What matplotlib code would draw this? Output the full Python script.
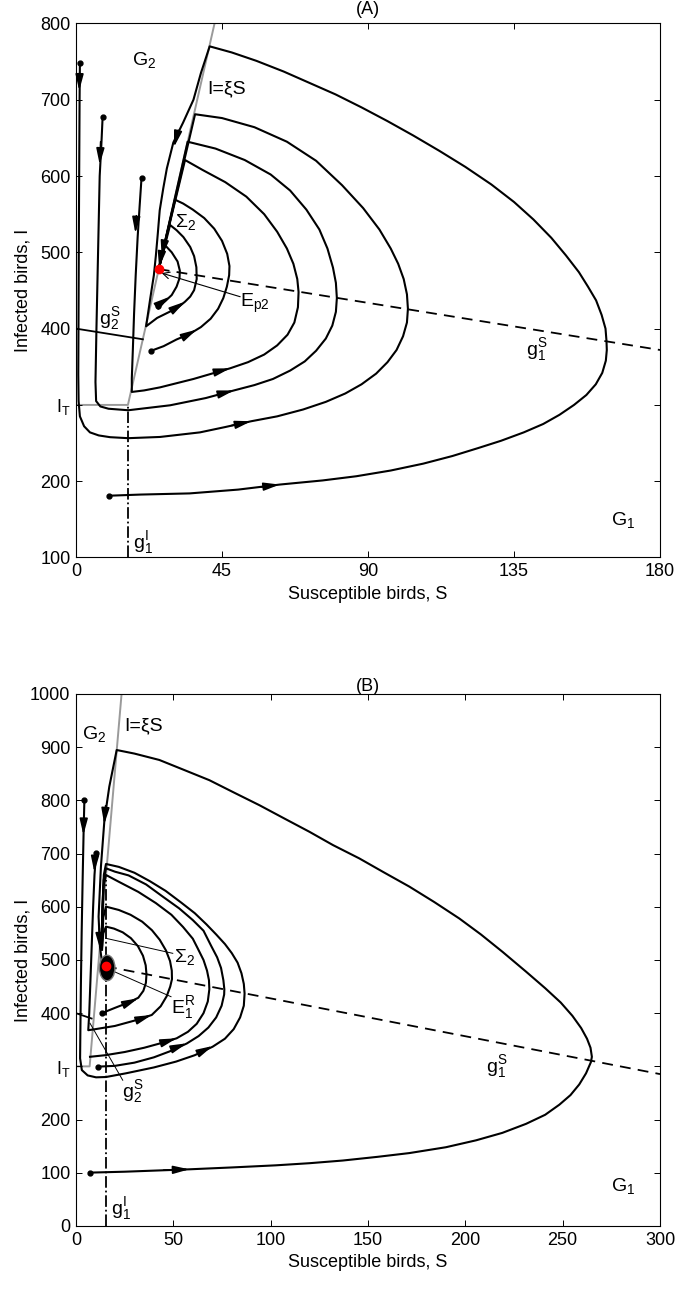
import matplotlib
matplotlib.use('Agg')
import matplotlib.pyplot as plt
from matplotlib.patches import Ellipse

plt.rcParams['font.family'] = ['Liberation Sans', 'DejaVu Sans']
plt.rcParams['mathtext.fontset'] = 'custom'
plt.rcParams['mathtext.rm'] = 'Liberation Sans'
plt.rcParams['mathtext.it'] = 'Liberation Sans:italic'
plt.rcParams['mathtext.sf'] = 'Liberation Sans'
plt.rcParams['font.size'] = 12

# ================= panel (A) data  (S, I) =================
A_switch_S = [0, 16.0, 42.7]          # I = I_T, then I = xi*S
A_switch_I = [300, 300, 800]
A_g1I_S = [16.0, 16.0]
A_g1I_I = [100, 300]
A_g1S_S = [25.5, 180]
A_g1S_I = [478, 372]
A_g2S_S = [0, 20.6]
A_g2S_I = [400, 386]
A_Ep2 = (25.5, 478)

# trajectory starting at (1.2, 748)
A_a_S = [1.2, 1.1, 1.0, 0.9, 0.8, 0.7, 0.8, 1.2, 2.5, 4.3, 7.0, 10.5, 16.1, 25.9, 38.2, 46, 54.0, 62, 70, 77,
         83, 88, 92.5, 96, 98.8, 100.8, 102, 102.3, 102, 101, 99.3, 97, 93.5, 88.5, 82, 74, 65, 55, 45, 36.7, 25.5]
A_a_I = [748, 700, 620, 540, 440, 340, 305, 285, 272, 264, 260, 257.7, 256.4, 258, 264, 271, 278.6, 285, 294, 304,
         315, 327, 341, 356, 372, 390, 408, 426, 445, 465, 485, 505, 530, 558, 588, 620, 645, 664, 676, 681, 478]
# trajectory starting at (8.2, 677)
A_b_S = [8.2, 7.8, 7.3, 6.8, 6.3, 6.0, 6.2, 7.5, 10, 16.1, 29, 40, 48.7, 55, 60.7, 66, 70.5, 74, 77, 79, 80.1,
         80.4, 80.1, 79.2, 77.5, 75, 71, 66, 60, 52, 43, 34.4, 25.5]
A_b_I = [677, 640, 600, 500, 400, 330, 305, 298, 295, 293, 299.5, 309, 319, 326, 334, 345, 357, 371, 387, 404, 422,
         440, 460, 480, 505, 530, 556, 581, 602, 621, 636, 645, 478]
# trajectory starting at (20.2, 598)
A_c_S = [20.2, 19.6, 19.0, 18.4, 17.9, 17.5, 17.2, 17.2, 21, 25.9, 36.2, 47.5, 53, 58, 62, 65.2, 67.3, 68.4,
         68.6, 68.2, 67, 65, 62, 58, 52.5, 46, 39, 33.6, 25.5]
A_c_I = [598, 560, 520, 470, 420, 370, 335, 317, 319, 323, 334, 348, 356, 366, 378, 392, 408, 428,
         448, 465, 485, 505, 527, 550, 573, 592, 608, 621, 478]
# trajectory starting at (23, 371)
A_d_S = [23, 27, 31, 35, 38.5, 41.5, 43.8, 45.4, 46.5, 47.2, 47.3, 46.6, 45, 42.6, 39.5, 36, 33, 30.5, 25.5]
A_d_I = [370.7, 377, 385.8, 393, 402, 413, 426, 440, 455, 470, 482, 498, 515, 531, 545, 556, 564, 569, 478]
# small trajectory starting at (25.4, 430)
A_e_S = [25.4, 27.5, 29.5, 31, 31.9, 32, 31.3, 29.5, 27.3, 25.5]
A_e_I = [430, 436, 444, 455, 466, 476, 488, 500, 510, 478]
# big trajectory starting at (10.3, 181)
A_out_S = [10.3, 20, 35, 50, 62.8, 76, 86.4, 97, 107, 116, 124, 131, 138, 144, 149, 153.5, 157.3, 160.2, 162.2,
           163.3, 163.6, 163.5, 163.2, 162, 160.3, 157.8, 155, 151, 146.5, 141, 135, 128, 120, 112, 104, 96,
           88, 80, 72, 64, 55.6, 48, 41.2,
           38.5, 36.2, 33, 30, 28, 26.9, 25.8, 25.2, 24.6, 24, 22.9, 22.2, 21.6,
           25, 29, 31.5, 33.6, 35.2, 36.4, 37.2, 37.1, 36.4, 35.2, 33.1, 31, 29, 25.5]
A_out_I = [181, 182.5, 184, 189, 195.6, 201, 206.5, 214, 223, 233, 243.5, 253, 264, 275, 287, 300, 313, 327, 342,
           358, 372, 384, 400, 418, 437, 455, 474, 496, 519, 543, 566, 589, 612, 633, 653, 672,
           690, 707, 722, 737, 751, 762, 770,
           735, 700, 670, 644, 610, 584, 555, 524, 495, 470, 440, 420, 403,
           414, 422.4, 428, 435.3, 442, 450.4, 465, 480.5, 495, 507, 520, 529, 535.8, 478]
A_traj = [(A_a_S, A_a_I, True), (A_b_S, A_b_I, True), (A_c_S, A_c_I, True), (A_d_S, A_d_I, True),
          (A_e_S, A_e_I, True), (A_out_S, A_out_I, True)]
# arrow heads: (tail, tip)
A_arrows = [((1.1, 735), (1.0, 712)), ((7.6, 645), (7.3, 615)), ((18.6, 548), (18.3, 525)),
            ((31.5, 660), (30.2, 638)), ((27.2, 512), (26.4, 494)), ((26.0, 490), (25.6, 480)),
            ((48, 273), (54.0, 278.6)), ((44, 314), (48.7, 319)), ((43, 343), (47.5, 348)),
            ((33.5, 390), (37.2, 398.7)), ((57, 192.5), (62.8, 195.6)), ((31, 428), (33.6, 435.3)),
            ((27, 436), (29, 442))]

# ================= panel (B) data =================
B_switch_S = [0, 7.0, 23.4]
B_switch_I = [300, 300, 1000]
B_g1I_S = [15.4, 15.4]
B_g1I_I = [0, 650]
B_g1S_S = [15.4, 300]
B_g1S_I = [488, 285.5]
B_g2S_S = [0, 8]
B_g2S_I = [400, 390]
B_E1R = (15.2, 488)

B_out_S = [7.2, 25, 58.2, 80, 102.7, 120, 137, 155, 171.2, 190, 205.5, 219, 231.2, 241, 248.3, 254, 258.5, 262,
           264.5, 265, 264.3, 262.5, 259.5, 255, 249, 241, 231.2, 219.2, 208, 196.9, 184, 171.2, 158, 145.5,
           132, 119.9, 107, 94.2, 81, 68.5, 55, 42.8, 30, 20.9,
           17.1, 14.6, 12.8, 11.6, 12.3, 13.2]
B_out_I = [100.3, 102, 106.5, 110, 114, 118, 123, 130, 137, 148, 161, 175, 192, 209, 228, 246, 266, 287,
           308, 318, 335, 352, 372, 395, 420, 447, 478, 515, 548, 578, 609, 638, 665, 691,
           716, 741, 766, 791, 815, 838, 858, 876, 888, 894.7,
           825.8, 763.2, 675.4, 581.5, 525, 500]
B_P_S = [4.3, 3.9, 3.4, 2.9, 2.5, 2.2, 2.1, 3, 6, 10.3, 15.4, 25.7, 40, 51.4, 61, 70.2, 76.5, 81, 84.3, 86.2, 86.6,
         86.2, 85, 83, 80, 76.5, 72, 67, 61, 54, 46, 38, 30, 22, 15.4, 14.3, 13.6, 13.2]
B_P_I = [800, 740, 650, 550, 450, 350, 315, 293, 283, 279.4, 280, 287, 298, 309, 321, 337, 352, 370, 392, 414, 437,
         455, 475, 495, 513, 530, 548, 567, 588, 608, 630, 648, 664, 675, 680.5, 660, 600, 520]
B_Q_S = [10.3, 9.5, 8.8, 8.0, 7.3, 6.8, 6.3, 10, 20, 30, 38.9, 43.5, 46.6, 48.4, 49.3, 49.2, 48.3, 46.2, 43, 39,
         34, 28, 22, 15.4, 14, 13.4]
B_Q_I = [700.5, 660, 600, 520, 450, 400, 368, 370, 376, 386, 396.6, 413, 432, 450, 464, 480, 498, 518, 538, 556,
         572, 585, 594, 600.3, 580, 520]
B_L3_S = [7.2, 15, 25, 35, 44, 51.7, 57.5, 62, 65.5, 67.7, 68.5, 68.3, 67.3, 65.5, 62.5, 60, 55, 49, 41, 32, 22,
          15.4, 14.2, 13.5, 13.2]
B_L3_I = [318, 321, 327, 335, 344, 352.8, 365, 380, 400, 422, 445, 462, 480, 500, 522, 540, 562, 585, 607, 628, 647,
          659.8, 640, 580, 520]
B_L2_S = [11.3, 20, 30, 40, 48, 56.9, 63, 68, 72, 74.8, 76.1, 76.2, 75.7, 74.5, 72.5, 69.5, 65.5, 60, 53, 45, 36,
          27, 20, 15.4, 14.2, 13.5, 13.2]
B_L2_I = [299.5, 301, 307, 317, 328, 343, 357, 373, 392, 414, 435, 445, 462, 485, 505, 526, 555, 575, 597, 618, 642,
          659, 666, 672.3, 650, 590, 520]
B_L5_S = [13.2, 20, 27, 32, 34.6, 35.9, 36.2, 35.8, 34.4, 31.8, 28.2, 24, 19.5, 15.4, 14, 13.3]
B_L5_I = [400, 410, 420, 429, 442, 457, 473, 490, 508, 526, 541, 552, 559, 562.7, 550, 520]
B_traj = [(B_out_S, B_out_I, True), (B_P_S, B_P_I, True), (B_Q_S, B_Q_I, True), (B_L3_S, B_L3_I, False),
          (B_L2_S, B_L2_I, True), (B_L5_S, B_L5_I, True)]
B_arrows = [((3.95, 762), (3.8, 735)), ((9.7, 690), (9.4, 665)), ((15.2, 790), (14.5, 755)),
            ((12.0, 560), (12.4, 520)), ((45, 105), (58.2, 106.5)), ((64, 327), (70.2, 338.3)),
            ((51, 335), (56.9, 343.4)), ((44, 344), (51.7, 352.8)), ((33, 389), (38.9, 396.6)),
            ((27, 420), (32, 428))]


def head(ax, tail, tip):
    ax.annotate('', xy=tip, xytext=tail,
                arrowprops=dict(arrowstyle='-|>,head_length=0.8,head_width=0.2', color='k', lw=1.2,
                                shrinkA=0, shrinkB=0))


def style(ax, xlim, ylim, xt, yt):
    ax.set_xlim(*xlim)
    ax.set_ylim(*ylim)
    ax.set_xticks(xt)
    ax.set_yticks(yt)
    ax.set_yticklabels([r'$\mathrm{I_T}$' if v == 300 else str(v) for v in yt])
    ax.tick_params(direction='in', top=True, right=True, length=4, width=0.7, labelsize=13, pad=4)
    for s in ax.spines.values():
        s.set_linewidth(0.8)
    ax.set_xlabel('Susceptible birds, S', fontsize=13)
    ax.set_ylabel('Infected birds, I', fontsize=13)
    ax.yaxis.set_label_coords(-0.077, 0.5)


def draw_common(ax, sw_S, sw_I, g1I_S, g1I_I, g1S_S, g1S_I, g2S_S, g2S_I, trajs, arrows):
    ax.plot(sw_S, sw_I, color='#9a9a9a', lw=1.4, zorder=1)
    ax.plot(g1I_S, g1I_I, 'k-.', lw=1.3)
    ax.plot(g1S_S, g1S_I, 'k--', lw=1.3, dashes=(6, 4))
    ax.plot(g2S_S, g2S_I, 'k-', lw=1.3)
    for S, I, dot in trajs:
        ax.plot(S, I, 'k-', lw=1.5, zorder=3)
        if dot:
            ax.plot(S[0], I[0], 'ko', ms=3.5, zorder=4)
    for t, h in arrows:
        head(ax, t, h)


fig = plt.figure(figsize=(6.75, 12.89), dpi=100)
axA = fig.add_axes([0.1126, 0.5675, 0.8652, 0.4143])
axB = fig.add_axes([0.1126, 0.0489, 0.8652, 0.4127])

# ---------- (A) ----------
ax = axA
draw_common(ax, A_switch_S, A_switch_I, A_g1I_S, A_g1I_I, A_g1S_S, A_g1S_I, A_g2S_S, A_g2S_I, A_traj, A_arrows)
ax.plot(*A_Ep2, 'o', color='red', ms=6, zorder=6)
ax.annotate('', xy=(26.4, 472.8), xytext=(50.6, 441.8),
            arrowprops=dict(arrowstyle='->', color='k', lw=0.8, shrinkA=0, shrinkB=0))
ax.text(21, 752, r'$\mathrm{G_2}$', ha='center', va='center', fontsize=14)
ax.text(40.3, 714, 'I=ξS', ha='left', va='center', fontsize=14)
ax.text(30.5, 540, r'$\Sigma_2$', ha='left', va='center', fontsize=14)
ax.text(50.5, 433, r'$\mathrm{E_{p2}}$', ha='left', va='center', fontsize=14)
ax.text(10.5, 413, r'$\mathrm{g_2^S}$', ha='center', va='center', fontsize=14)
ax.text(142, 372, r'$\mathrm{g_1^S}$', ha='center', va='center', fontsize=14)
ax.text(20.6, 120, r'$\mathrm{g_1^I}$', ha='center', va='center', fontsize=14)
ax.text(168.5, 149, r'$\mathrm{G_1}$', ha='center', va='center', fontsize=14)
style(ax, (0, 180), (100, 800), [0, 45, 90, 135, 180], [100, 200, 300, 400, 500, 600, 700, 800])
ax.set_title('(A)', fontsize=13, pad=6.5)

# ---------- (B) ----------
ax = axB
draw_common(ax, B_switch_S, B_switch_I, B_g1I_S, B_g1I_I, B_g1S_S, B_g1S_I, B_g2S_S, B_g2S_I, B_traj, B_arrows)
ax.add_patch(Ellipse((16, 485), 8, 48, facecolor='k', edgecolor='#777777', lw=1.0, zorder=5))
ax.plot(*B_E1R, 'o', color='red', ms=6, zorder=6)
ax.plot([49.7, 15.4], [512.5, 540.7], 'k-', lw=0.7)
ax.plot([48.8, 19.7], [431, 478], 'k-', lw=0.7)
ax.plot([24, 7.2], [274, 381], 'k-', lw=0.7)
ax.text(9.5, 925, r'$\mathrm{G_2}$', ha='center', va='center', fontsize=14)
ax.text(24.8, 940, 'I=ξS', ha='left', va='center', fontsize=14)
ax.text(50.5, 505, r'$\Sigma_2$', ha='left', va='center', fontsize=14)
ax.text(48.8, 410, r'$\mathrm{E_1^R}$', ha='left', va='center', fontsize=14)
ax.text(29, 252, r'$\mathrm{g_2^S}$', ha='center', va='center', fontsize=14)
ax.text(216, 300, r'$\mathrm{g_1^S}$', ha='center', va='center', fontsize=14)
ax.text(23, 33, r'$\mathrm{g_1^I}$', ha='center', va='center', fontsize=14)
ax.text(281, 75, r'$\mathrm{G_1}$', ha='center', va='center', fontsize=14)
style(ax, (0, 300), (0, 1000), [0, 50, 100, 150, 200, 250, 300],
      [0, 100, 200, 300, 400, 500, 600, 700, 800, 900, 1000])
ax.set_title('(B)', fontsize=13, pad=2)

fig.savefig('out.png', dpi=100)
